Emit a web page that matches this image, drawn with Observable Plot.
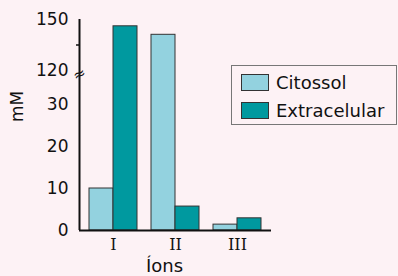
<!DOCTYPE html>
<html>
<head>
<meta charset="utf-8">
<script src="https://cdn.jsdelivr.net/npm/d3@7"></script>
<script src="https://cdn.jsdelivr.net/npm/@observablehq/plot@0.6"></script>
<style>
  html, body { margin: 0; padding: 0; background: #fdf2f5; }
  #wrap { position: relative; width: 398px; height: 276px; background: #fdf2f5; font-family: "DejaVu Sans", sans-serif; }
  #legend { position: absolute; left: 231px; top: 65px; width: 164px; height: 58px; border: 1px solid #777; font-size: 18px; color: #111; }
  .item { position: absolute; left: 9px; display: flex; align-items: center; }
  .sw { width: 26px; height: 15px; border: 1px solid #333; margin-right: 7px; }
</style>
</head>
<body>
<div id="wrap"><div id="legend"></div></div>
<script>
const ions = ["I", "II", "III"];
const series = ["Citossol", "Extracelular"];
const citossol = [10, 141, 1.4];
const extracelular = [146, 5.7, 2.9];
const yTicks = [0, 10, 20, 30, 120, 150];
const yMinorTicks = [135];
const yBreak = [110];
const colors = ["#93d2df", "#00999f"];

const rows = ions.flatMap((ion, i) => [
  {ion, series: series[0], value: citossol[i]},
  {ion, series: series[1], value: extracelular[i]}
]);

const pi = 0.23, po = 0.155, frameW = 192;
const bw = frameW * (1 - pi) / (ions.length - pi + 2 * po);
const half = bw / 2;

const chart = Plot.plot({
  width: 398,
  height: 276,
  marginLeft: 79,
  marginRight: 127,
  marginTop: 19,
  marginBottom: 46,
  style: {background: "transparent", fontFamily: "DejaVu Sans, sans-serif", fontSize: "17px", color: "#111"},
  x: {domain: ions, paddingInner: pi, paddingOuter: po, axis: null},
  y: {type: "linear", domain: [0, 30, 120, 150], range: [230, 104, 70, 19], axis: null},
  marks: [
    Plot.barY(rows.filter(d => d.series === series[0]), {x: "ion", y: "value", fill: colors[0], stroke: "#333", strokeWidth: 1, insetRight: half}),
    Plot.barY(rows.filter(d => d.series === series[1]), {x: "ion", y: "value", fill: colors[1], stroke: "#333", strokeWidth: 1, insetLeft: half}),
    Plot.axisY({ticks: yTicks, tickSize: 0, tickPadding: 11, fontSize: 17, label: null}),
    Plot.axisY({ticks: yMinorTicks, tickSize: 3, tickFormat: () => "", label: null, stroke: "#111", strokeWidth: 1.5}),
    Plot.axisX({tickSize: 0, tickPadding: 8, fontSize: 16, fontFamily: "DejaVu Serif, serif", label: null}),
    Plot.ruleY([0], {stroke: "#111", strokeWidth: 2}),
    Plot.ruleX([0], {x: null, dx: -frameW / 2, stroke: "#111", strokeWidth: 2}),
    Plot.text(yBreak, {y: d => d, frameAnchor: "left", textAnchor: "middle", text: () => "≈", fontSize: 15, rotate: -25, fill: "#111"}),
    Plot.text(["Íons"], {frameAnchor: "bottom", lineAnchor: "middle", text: d => d, dx: -11, dy: 36, fontSize: 18, fill: "#111"}),
    Plot.text(["mM"], {frameAnchor: "left", text: d => d, rotate: -90, dx: -62, dy: -3, fontSize: 17, fill: "#111"})
  ]
});
document.getElementById("wrap").prepend(chart);

const legend = document.getElementById("legend");
series.forEach((s, i) => {
  const item = document.createElement("div");
  item.className = "item";
  item.style.top = (6 + i * 28) + "px";
  const sw = document.createElement("div");
  sw.className = "sw";
  sw.style.background = colors[i];
  const t = document.createElement("span");
  t.textContent = s;
  item.appendChild(sw);
  item.appendChild(t);
  legend.appendChild(item);
});
</script>
</body>
</html>
